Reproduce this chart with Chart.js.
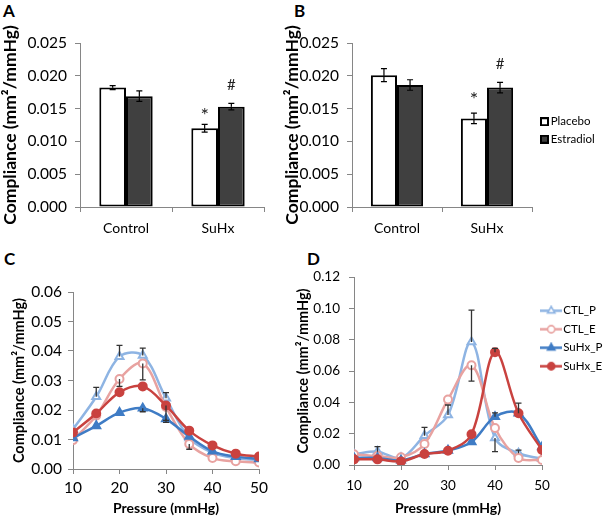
<!DOCTYPE html>
<html><head><meta charset="utf-8">
<script src="https://cdn.jsdelivr.net/npm/chart.js@4.4.1/dist/chart.umd.min.js"></script>
<style>
html,body{margin:0;padding:0;background:#fff;width:604px;height:518px;overflow:hidden;font-family:Lato,sans-serif}
.box{position:absolute}
canvas{display:block}
.letter{position:absolute;font-weight:bold;font-size:17px;line-height:17px;color:#000;font-family:Lato,sans-serif}
</style></head><body>
<div class="letter" style="left:3px;top:2px">A</div>
<div class="letter" style="left:294px;top:2px">B</div>
<div class="letter" style="left:4px;top:250px">C</div>
<div class="letter" style="left:307px;top:250px">D</div>
<div class="box" style="left:0;top:0"><canvas id="cA" width="290" height="250"></canvas></div>
<div class="box" style="left:270px;top:0"><canvas id="cB" width="334" height="250"></canvas></div>
<div class="box" style="left:0;top:250px"><canvas id="cC" width="290" height="268"></canvas></div>
<div class="box" style="left:290px;top:250px"><canvas id="cD" width="314" height="268"></canvas></div>
<script>
// ---------- data ----------
const groups = ['Control', 'SuHx'];
const treatments = ['Placebo', 'Estradiol'];

const aPlacebo = [0.0182, 0.0120];
const aPlaceboErr = [0.0003, 0.0006];
const aEstradiol = [0.0169, 0.0153];
const aEstradiolErr = [0.0008, 0.0005];
const aMarkY = [0.0147, 0.0185];

const bPlacebo = [0.0201, 0.0135];
const bPlaceboErr = [0.0010, 0.0008];
const bEstradiol = [0.0186, 0.0182];
const bEstradiolErr = [0.0008, 0.0008];
const bMarkY = [0.0172, 0.0218];

const markText = ['*', '#'];

const pressure = [10, 15, 20, 25, 30, 35, 40, 45, 50];
const curveNames = ['CTL_P', 'CTL_E', 'SuHx_P', 'SuHx_E'];

const cCtlP  = [0.0135, 0.0245, 0.0381, 0.0385, 0.0240, 0.0105, 0.0055, 0.0037, 0.0030];
const cCtlE  = [0.0098, 0.0181, 0.0305, 0.0358, 0.0210, 0.0085, 0.0037, 0.0026, 0.0022];
const cSuhxP = [0.0105, 0.0146, 0.0191, 0.0206, 0.0170, 0.0110, 0.0060, 0.0042, 0.0034];
const cSuhxE = [0.0124, 0.0188, 0.0260, 0.0280, 0.0215, 0.0130, 0.0080, 0.0052, 0.0042];
const cCtlPUp    = [null, 0.0032, 0.0038, 0.0025, 0.0019, null, null, null, null];
const cCtlEDown  = [null, null, 0.0025, 0.0056, null, 0.0018, null, null, null];
const cSuhxPDown = [null, null, null, 0.0012, 0.0012, null, null, null, null];
const cSuhxEDown = [null, null, null, null, 0.0050, null, null, null, null];

const dCtlP  = [0.0068, 0.0085, 0.0045, 0.0187, 0.0319, 0.0785, 0.0172, 0.0075, 0.0040];
const dCtlE  = [0.0068, 0.0057, 0.0049, 0.0134, 0.0418, 0.0636, 0.0236, 0.0045, 0.0032];
const dSuhxP = [0.0045, 0.0045, 0.0030, 0.0070, 0.0093, 0.0147, 0.0308, 0.0330, 0.0115];
const dSuhxE = [0.0036, 0.0036, 0.0023, 0.0070, 0.0091, 0.0196, 0.0720, 0.0330, 0.0096];
const dCtlPUp    = [null, 0.0032, null, 0.0053, 0.0064, 0.0204, null, 0.0020, null];
const dCtlPDown  = [null, null, null, null, null, null, 0.0087, null, null];
const dCtlEDown  = [null, null, null, null, null, 0.0100, null, null, null];
const dSuhxPUp   = [null, null, null, null, null, null, 0.0025, null, null];
const dSuhxEUp   = [null, null, null, null, null, null, 0.0025, 0.0065, null];

// ---------- styling ----------
const AXIS = '#868686';
const TXT = '#000';
const curveColors = ['#8EB4E3', '#E8A2A0', '#3F7CC5', '#C9423F'];
const curveShapes = ['triangle', 'circle', 'triangle', 'circle'];
const curveOpen = [true, true, false, false];
Chart.defaults.font.family = "Lato, 'Open Sans', sans-serif";
Chart.defaults.color = TXT;

// ---------- plugins ----------
const errorBars = {
  id: 'errorBars',
  afterDatasetsDraw(chart, args, opts) {
    if (!opts.sets) return;
    const ctx = chart.ctx, ys = chart.scales.y;
    ctx.save();
    ctx.lineWidth = opts.width || 1;
    opts.sets.forEach(s => {
      const meta = chart.getDatasetMeta(s.ds);
      const raw = chart.data.datasets[s.ds].data;
      ctx.strokeStyle = s.color || opts.color || '#000';
      meta.data.forEach((el, i) => {
        const v = (raw[i] && typeof raw[i] === 'object') ? raw[i].y : raw[i];
        const ends = [];
        if (s.plus && s.plus[i] != null) ends.push(v + s.plus[i]);
        if (s.minus && s.minus[i] != null) ends.push(v - s.minus[i]);
        const p0 = ys.getPixelForValue(v);
        ends.forEach(e => {
          const p = ys.getPixelForValue(e);
          ctx.beginPath();
          ctx.moveTo(el.x, p0); ctx.lineTo(el.x, p);
          ctx.moveTo(el.x - opts.cap, p); ctx.lineTo(el.x + opts.cap, p);
          ctx.stroke();
        });
      });
    });
    ctx.restore();
  }
};
const marks = {
  id: 'marks',
  afterDatasetsDraw(chart, args, opts) {
    if (!opts.items) return;
    const ctx = chart.ctx, ys = chart.scales.y;
    ctx.save();
    ctx.fillStyle = opts.color || '#222';
    ctx.textAlign = 'center'; ctx.textBaseline = 'middle';
    opts.items.forEach((m, k) => {
      const st = opts.styles[k];
      ctx.font = st.size + 'px ' + Chart.defaults.font.family;
      const el = chart.getDatasetMeta(m.ds).data[m.index];
      ctx.fillText(m.text, el.x, ys.getPixelForValue(m.y) + st.dy);
    });
    ctx.restore();
  }
};
const legendPlacer = {
  id: 'legendPlacer',
  afterLayout(chart, args, opts) {
    const lg = chart.legend;
    if (!lg || opts.x == null) return;
    const w = lg.width, h = lg.height;
    lg.left = opts.x; lg.right = opts.x + w;
    lg.top = opts.y; lg.bottom = opts.y + h;
  }
};
Chart.register(errorBars, marks, legendPlacer);

function icon(w, h, draw) {
  const c = document.createElement('canvas');
  c.width = w; c.height = h;
  draw(c.getContext('2d'), w, h);
  return c;
}
const barIcons = [
  icon(9, 9, (g) => { g.fillStyle = '#fff'; g.fillRect(0, 0, 9, 9); g.strokeStyle = '#000'; g.lineWidth = 2; g.strokeRect(1, 1, 7, 7); }),
  icon(9, 9, (g) => { g.fillStyle = '#404040'; g.fillRect(0, 0, 9, 9); g.strokeStyle = '#000'; g.lineWidth = 2; g.strokeRect(1, 1, 7, 7); })
];
const curveIcons = curveColors.map((col, i) => icon(22, 11, (g, w, h) => {
  g.strokeStyle = col; g.lineWidth = 2.5;
  g.beginPath(); g.moveTo(0, h / 2); g.lineTo(w, h / 2); g.stroke();
  g.fillStyle = curveOpen[i] ? '#fff' : col; g.lineWidth = 1.6;
  Chart.helpers.drawPoint(g, {pointStyle: curveShapes[i], radius: curveShapes[i] === 'triangle' ? 4.2 : 3.6, borderWidth: 1.6, rotation: 0}, w / 2, h / 2);
}));

function makeLegend(icons, pw, pad) {
  return {
    display: true, position: 'chartArea', align: 'start',
    labels: {
      usePointStyle: true, pointStyleWidth: pw, padding: pad, color: TXT,
      font: {size: 11.5},
      generateLabels(chart) {
        const items = Chart.defaults.plugins.legend.labels.generateLabels(chart);
        items.forEach(it => { it.pointStyle = icons[it.datasetIndex]; it.lineWidth = 0; });
        return items.sort((a, b) => a.datasetIndex - b.datasetIndex);
      }
    }
  };
}

function barChart(id, placebo, pErr, estradiol, eErr, markY, L) {
  return new Chart(document.getElementById(id), {
    type: 'bar',
    data: {
      labels: groups,
      datasets: [
        {label: treatments[0], data: placebo, backgroundColor: '#ffffff', borderColor: '#000', borderWidth: 2, borderSkipped: false},
        {label: treatments[1], data: estradiol, backgroundColor: '#404040', borderColor: '#000', borderWidth: 2, borderSkipped: false}
      ]
    },
    options: {
      responsive: false, animation: false,
      datasets: {bar: {barPercentage: 1, categoryPercentage: 0.58}},
      layout: {padding: {left: 0, top: L.top, right: L.right, bottom: 0}},
      plugins: {
        legend: L.legend || {display: false},
        legendPlacer: L.legendPos || {},
        tooltip: {enabled: false},
        errorBars: {cap: 3, width: 1.2, color: '#000', sets: [{ds: 0, plus: pErr, minus: pErr}, {ds: 1, plus: eErr, minus: eErr}]},
        marks: {color: '#222', styles: [{size: 20, dy: 5}, {size: 15, dy: 0}],
                items: [{ds: 0, index: 1, y: markY[0], text: markText[0]}, {ds: 1, index: 1, y: markY[1], text: markText[1]}]}
      },
      scales: {
        x: {
          grid: {drawOnChartArea: false, drawTicks: true, tickLength: 5, color: AXIS, offset: true},
          border: {color: AXIS},
          ticks: {color: TXT, font: {size: 14}, padding: 8},
          afterFit(s) { s.height = L.xh; }
        },
        y: {
          min: 0, max: 0.025,
          ticks: {stepSize: 0.005, callback: v => v.toFixed(3), color: TXT, font: {size: 15.5}, padding: 8},
          grid: {drawOnChartArea: false, tickLength: 5, color: AXIS},
          border: {color: AXIS},
          title: {display: true, text: 'Compliance (mm²/mmHg)', color: TXT, font: {size: 17.5, weight: 'bold'}, padding: {top: L.tpad, bottom: 0}},
          afterFit(s) { s.width = L.yw; }
        }
      }
    }
  });
}

function lineChart(id, series, errSets, L) {
  return new Chart(document.getElementById(id), {
    type: 'line',
    data: {
      datasets: series.map((s, i) => ({
        label: curveNames[i],
        data: pressure.map((p, k) => ({x: p, y: s[k]})),
        borderColor: curveColors[i], backgroundColor: curveColors[i],
        borderWidth: 2.5, tension: 0.35, fill: false,
        pointStyle: curveShapes[i],
        pointRadius: curveShapes[i] === 'triangle' ? 4.6 : 4,
        pointBackgroundColor: curveOpen[i] ? '#fff' : curveColors[i],
        pointBorderColor: curveColors[i], pointBorderWidth: 2,
        order: series.length - i
      }))
    },
    options: {
      responsive: false, animation: false,
      layout: {padding: {left: 0, top: L.top, right: L.right, bottom: 0}},
      plugins: {
        legend: L.legend || {display: false},
        legendPlacer: L.legendPos || {},
        tooltip: {enabled: false},
        errorBars: {cap: 3, width: 1.3, color: '#333', sets: errSets}
      },
      scales: {
        x: {
          type: 'linear', min: 10, max: 50,
          ticks: {stepSize: 10, color: TXT, font: {size: L.tick}, padding: L.xpad},
          grid: {drawOnChartArea: false, tickLength: 5, color: AXIS},
          border: {color: AXIS},
          title: {display: true, text: 'Pressure (mmHg)', color: TXT, font: {size: 14, weight: 'bold'}, padding: {top: 1, bottom: 1}},
          afterFit(s) { s.height = L.xh; }
        },
        y: {
          min: 0, max: L.ymax,
          ticks: {stepSize: L.ystep, callback: v => v.toFixed(2), color: TXT, font: {size: L.tick}, padding: L.ypad},
          grid: {drawOnChartArea: false, tickLength: 5, color: AXIS},
          border: {color: AXIS},
          title: {display: true, text: 'Compliance (mm²/mmHg)', color: TXT, font: {size: 14.5, weight: 'bold'}, padding: {top: L.tpad, bottom: 0}},
          afterFit(s) { s.width = L.yw; }
        }
      }
    }
  });
}

barChart('cA', aPlacebo, aPlaceboErr, aEstradiol, aEstradiolErr, aMarkY,
  {top: 43, right: 26, xh: 43, yw: 80, tpad: 0});
barChart('cB', bPlacebo, bPlaceboErr, bEstradiol, bEstradiolErr, bMarkY,
  {top: 43, right: 72, xh: 43, yw: 82, tpad: 12,
   legend: makeLegend(barIcons, 1, 6), legendPos: {x: 268, y: 110}});

lineChart('cC', [cCtlP, cCtlE, cSuhxP, cSuhxE], [
  {ds: 0, plus: cCtlPUp}, {ds: 1, minus: cCtlEDown}, {ds: 2, minus: cSuhxPDown}, {ds: 3, minus: cSuhxEDown}
], {top: 42, right: 31, xh: 49, yw: 73, tpad: 11, ymax: 0.06, ystep: 0.01, tick: 15.5, xpad: 5, ypad: 6});

lineChart('cD', [dCtlP, dCtlE, dSuhxP, dSuhxE], [
  {ds: 0, plus: dCtlPUp, minus: dCtlPDown}, {ds: 1, minus: dCtlEDown}, {ds: 2, plus: dSuhxPUp}, {ds: 3, plus: dSuhxEUp}
], {top: 27, right: 62, xh: 53, yw: 64, tpad: 5, ymax: 0.12, ystep: 0.02, tick: 13.5, xpad: 8, ypad: 9,
   legend: makeLegend(curveIcons, 12.5, 7), legendPos: {x: 248, y: 48}});
</script>
</body></html>
